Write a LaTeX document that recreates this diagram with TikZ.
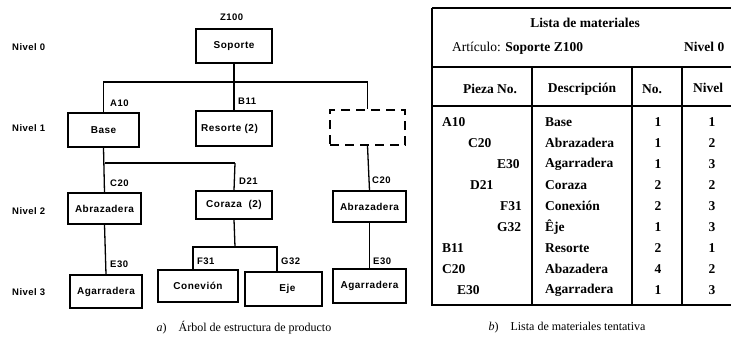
\documentclass[tikz,border=0pt]{standalone}
\usepackage{fontspec}
\setmainfont{Liberation Serif}
\newfontfamily\treefont[LetterSpace=5]{Liberation Sans}
\begin{document}
\begin{tikzpicture}[x=1pt,y=-1pt,
  treebox/.style={draw, line width=1.3pt, inner sep=0pt, font=\treefont\bfseries\fontsize{10}{12}\selectfont},
  dashbox/.style={draw, line width=1.5pt, dash pattern=on 9pt off 6pt, inner sep=0pt},
  conn/.style={line width=1.3pt},
  bus/.style={line width=1.8pt},
  code/.style={font=\treefont\bfseries\fontsize{9.5}{11}\selectfont, anchor=west, inner sep=0pt},
  lvl/.style={font=\treefont\bfseries\fontsize{9.5}{11}\selectfont, anchor=west, inner sep=0pt},
  captxt/.style={font=\fontsize{12}{14}\selectfont, inner sep=0pt},
  tbl/.style={font=\bfseries\fontsize{13.5}{15}\selectfont, inner sep=0pt},
  tline/.style={line width=1.2pt}
]
\useasboundingbox (0,0) rectangle (731,349);

% ---- level labels ----
\node[lvl] (n0) at (12,47) {Nivel 0};
\node[lvl] (n1) at (12,128) {Nivel 1};
\node[lvl] (n2) at (12,211) {Nivel 2};
\node[lvl] (n3) at (12,292) {Nivel 3};

% ---- tree boxes ----
\node[treebox, minimum width=76, minimum height=34] (soporte) at (234,46) {Soporte};
\node[treebox, minimum width=71, minimum height=34] (base) at (103.5,130) {Base};
\node[treebox, minimum width=76, minimum height=35] (resorte) at (234,128.5) {Resorte (2)\hspace*{9pt}};
\node[dashbox, minimum width=75, minimum height=35] (hidden) at (367.5,127.5) {};
\node[treebox, minimum width=73, minimum height=31] (abrL) at (104.5,208.5) {Abrazadera};
\node[treebox, minimum width=76, minimum height=28] (coraza) at (234,205) {Coraza\ \ (2)};
\node[treebox, minimum width=73, minimum height=31] (abrR) at (369.5,206.5) {Abrazadera};
\node[treebox, minimum width=80, minimum height=32] (conex) at (198,286) {Conevión};
\node[treebox, minimum width=77, minimum height=34] (eje) at (283.5,289) {\hspace*{8pt}Eje};
\node[treebox, minimum width=72, minimum height=33] (agaL) at (106,291.5) {Agarradera};
\node[treebox, minimum width=73, minimum height=34] (agaR) at (369.5,286) {Agarradera};

% ---- codes ----
\node[code] (z100) at (220,17) {Z100};
\node[code] (la10) at (110,103) {A10};
\node[code] (lb11) at (238,101) {B11};
\node[code] (lc20a) at (110,183) {C20};
\node[code] (ld21) at (239,181) {D21};
\node[code] (lc20b) at (372,180) {C20};
\node[code] (lf31) at (197,261) {F31};
\node[code] (lg32) at (281,261) {G32};
\node[code] (le30a) at (110,264) {E30};
\node[code] (le30b) at (373,261) {E30};

% ---- connectors ----
\coordinate (j1) at (234,82);
\coordinate (j2) at (105,163);
\coordinate (j2e) at (235,163);
\coordinate (j3) at (235,247);
\coordinate (cF) at (193,270);
\coordinate (cG) at (277,272);
\draw[conn] (soporte.south) -- (j1);
\draw[bus] (j1) -| (base.north);
\draw[bus] (j1) -| (hidden.north);
\draw[conn] (j1) -- (resorte.north);
\draw[conn] (base.south) -- (abrL.north);
\draw[bus] (j2) -- (j2e);
\draw[conn] (j2e) -- (coraza.north);
\draw[conn] (hidden.south) -- (abrR.north);
\draw[conn] (abrL.south) -- (agaL.north);
\draw[conn] (abrR.south) -- (agaR.north);
\draw[conn] (coraza.south) -- (j3);
\draw[bus] (j3) -| (cF);
\draw[bus] (j3) -| (cG);

% ---- captions ----
\node[captxt] (capa) at (244,328) {\textit{a})\quad Árbol de estructura de producto};
\node[captxt] (capb) at (567,328) {\textit{b})\quad Lista de materiales tentativa};

% ---- table ----
\draw[line width=1.5pt] (432,8) -- (740,8);
\draw[line width=1.5pt] (432,8) -- (432,305) -- (740,305);
\draw[tline] (432,67) -- (740,67);
\draw[tline] (432,106) -- (740,106);
\draw[tline] (532,67) -- (532,305);
\draw[tline] (632,67) -- (632,305);
\draw[tline] (682,67) -- (682,305);

\node[tbl] (ttl) at (585,23) {Lista de materiales};
\node[tbl, anchor=west] (art) at (452,48) {\mdseries Artículo: \bfseries Soporte Z100};
\node[tbl, anchor=west] (niv0) at (684,47) {Nivel 0};
\node[tbl] (h1) at (490,89) {Pieza No.};
\node[tbl] (h2) at (582,89) {Descripción};
\node[tbl] (h3) at (652,89) {No.};
\node[tbl] (h4) at (708,88) {Nivel};

\foreach \y/\a/\ax/\d/\n/\l [count=\i] in {
  122/A10/442/Base/1/1,
  143/C20/468/Abrazadera/1/2,
  164/E30/497/Agarradera/1/3,
  185/D21/470/Coraza/2/2,
  206/F31/500/Conexión/2/3,
  227/G32/497/Êje/1/3,
  248/B11/442/Resorte/2/1,
  269/C20/442/Abazadera/4/2,
  290/E30/457/Agarradera/1/3} {
  \node[tbl, anchor=west] (p\i) at (\ax,\y) {\a};
  \node[tbl, anchor=west] (d\i) at (545,\y) {\d};
  \node[tbl] (q\i) at (658,\y) {\n};
  \node[tbl] (v\i) at (712,\y) {\l};
}
\end{tikzpicture}
\end{document}
